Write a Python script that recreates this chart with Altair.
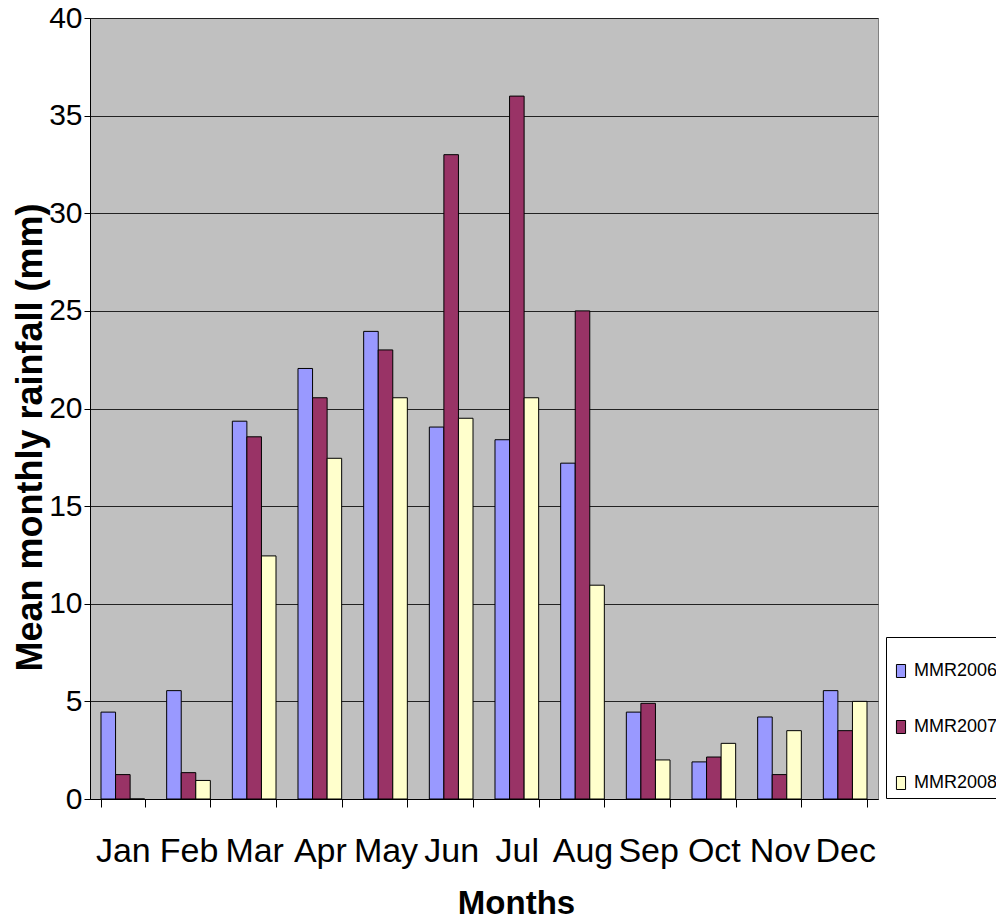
import altair as alt
import pandas as pd

months = ["Jan", "Feb", "Mar", "Apr", "May", "Jun",
          "Jul", "Aug", "Sep", "Oct", "Nov", "Dec"]
series = ["MMR2006", "MMR2007", "MMR2008"]
mmr2006 = [4.45, 5.55, 19.35, 22.05, 23.95, 19.05, 18.4, 17.2, 4.45, 1.9, 4.2, 5.55]
mmr2007 = [1.25, 1.35, 18.55, 20.55, 23.0, 33.0, 36.0, 25.0, 4.9, 2.15, 1.25, 3.5]
mmr2008 = [0.0, 0.95, 12.45, 17.45, 20.55, 19.5, 20.55, 10.95, 2.0, 2.85, 3.5, 5.0]
colors = ["#9999FF", "#993366", "#FFFFCC"]

rows = []
for name, vals in zip(series, [mmr2006, mmr2007, mmr2008]):
    for m, v in zip(months, vals):
        rows.append({"Month": m, "Series": name, "Rainfall": v})
df = pd.DataFrame(rows)

font = "Liberation Sans"

bars = alt.Chart(df).mark_bar(stroke="black", strokeWidth=1).encode(
    x=alt.X(
        "Month:N",
        sort=months,
        scale=alt.Scale(paddingInner=0.335, paddingOuter=0.1675),
        axis=alt.Axis(
            title="Months",
            titleFont=font, titleFontSize=33, titleFontWeight="bold",
            titleColor="black", titleX=426, titleY=104,
            titleBaseline="middle", titleAnchor="start", titleAlign="center",
            labelFont=font, labelFontSize=34, labelColor="black",
            labelAngle=0, labelPadding=27, labelBaseline="top",
            tickBand="extent", tickSize=8, tickColor="black",
            domainColor="black", grid=False,
        ),
    ),
    xOffset=alt.XOffset("Series:N", sort=series, scale=alt.Scale(paddingInner=0, paddingOuter=0)),
    y=alt.Y(
        "Rainfall:Q",
        scale=alt.Scale(domain=[0, 40], nice=False),
        axis=alt.Axis(
            title="Mean monthly rainfall (mm)",
            titleFont=font, titleFontSize=36, titleFontWeight="bold",
            titleColor="black", titleAngle=-90, titleX=-60, titleY=419,
            titleBaseline="middle", titleAlign="center", titleAnchor="start",
            values=[0, 5, 10, 15, 20, 25, 30, 35, 40],
            labelFont=font, labelFontSize=30, labelColor="black",
            labelPadding=2, tickSize=6, tickColor="black",
            domainColor="black", gridColor="#222222", gridWidth=1,
        ),
    ),
    color=alt.Color(
        "Series:N",
        sort=series,
        scale=alt.Scale(domain=series, range=colors),
        legend=alt.Legend(
            title=" ", titleFontSize=12, titlePadding=7,
            orient="none", legendX=796, legendY=619,
            fillColor="white", strokeColor="black", padding=6,
            symbolType="M-0.7,-1H0.7V1H-0.7Z", symbolSize=169,
            symbolStrokeColor="black", symbolStrokeWidth=1,
            labelFont=font, labelFontSize=18, labelColor="black",
            labelOffset=4, rowPadding=38,
        ),
    ),
)

chart = bars.properties(
    width=788,
    height=781,
    padding={"left": 90, "top": 18, "right": 118, "bottom": 122},
    autosize=alt.AutoSizeParams(type="none"),
    background="white",
).configure_view(fill="#C0C0C0", stroke="#808080", strokeWidth=1)

chart.save("out.html", embed_options={"renderer": "svg", "actions": False})
